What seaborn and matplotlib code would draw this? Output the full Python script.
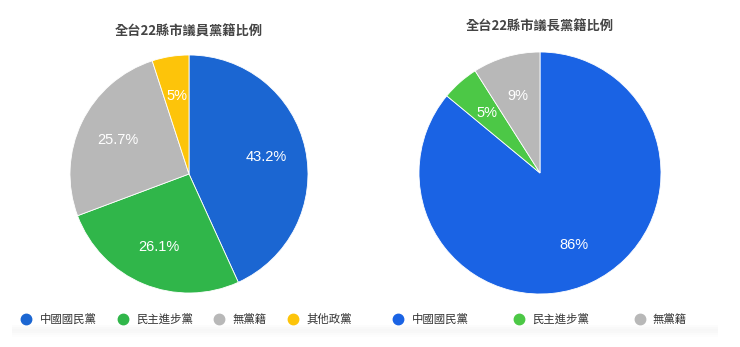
import matplotlib
matplotlib.use("Agg")
import matplotlib.pyplot as plt
import seaborn as sns
from matplotlib.lines import Line2D
from matplotlib.patches import Rectangle

sns.set_theme(style="white")
plt.rcParams['font.family'] = ['Noto Sans CJK TC', 'DejaVu Sans']

# Data
left_title = "全台22縣市議員黨籍比例"
left_parties = ["中國國民黨", "民主進步黨", "無黨籍", "其他政黨"]
left_values = [43.2, 26.1, 25.7, 5.0]
left_labels = ["43.2%", "26.1%", "25.7%", "5%"]
left_colors = ["#1b66d2", "#30b64a", "#b8b8b8", "#fdc40a"]

right_title = "全台22縣市議長黨籍比例"
right_parties = ["中國國民黨", "民主進步黨", "無黨籍"]
right_values = [86, 5, 9]
right_labels = ["86%", "5%", "9%"]
right_colors = ["#1a63e4", "#4cc846", "#b8b8b8"]

W, H = 740, 347
fig = plt.figure(figsize=(W / 100, H / 100), dpi=100)


def pie_axes(cx, cy, r):
    return fig.add_axes([(cx - r) / W, (H - cy - r) / H, 2 * r / W, 2 * r / H])


def draw_pie(ax, values, labels, colors):
    wedges, texts = ax.pie(values, colors=colors, startangle=90, counterclock=False,
                           labels=labels, labeldistance=0.66, radius=1.0,
                           wedgeprops=dict(linewidth=0.6, edgecolor="white"),
                           textprops=dict(color="white", fontsize=10.5, ha="center", va="center",
                                          family=["Liberation Sans", "DejaVu Sans"]))
    ax.set_xlim(-1, 1)
    ax.set_ylim(-1, 1)
    ax.set_aspect("auto")
    ax.axis("off")


axl = pie_axes(189, 174, 119)
draw_pie(axl, left_values, left_labels, left_colors)
axr = pie_axes(540, 173, 121)
draw_pie(axr, right_values, right_labels, right_colors)

fig.text(189 / W, 1 - 32 / H, left_title, ha="center", va="center", fontsize=9.5,
         color="#444444", fontweight="bold")
fig.text(540 / W, 1 - 27 / H, right_title, ha="center", va="center", fontsize=9.5,
         color="#444444", fontweight="bold")

# soft band under legend
for i, a in enumerate([0.06, 0.1, 0.14, 0.12, 0.08, 0.04]):
    fig.patches.append(Rectangle((12 / W, 1 - (327 + i * 2) / H), 706 / W, 2 / H,
                                 transform=fig.transFigure, color="#cccccc", alpha=a,
                                 linewidth=0))


def make_handles(colors):
    return [Line2D([0], [0], marker="o", linestyle="", markersize=7.5,
                   markerfacecolor=c, markeredgecolor=c) for c in colors]


leg1 = fig.legend(make_handles(left_colors), left_parties, ncol=4, frameon=False,
                  loc="center left", bbox_to_anchor=(20.3 / W, 1 - 319 / H),
                  fontsize=8.2, handletextpad=0.68, columnspacing=1.8, handlelength=1.0,
                  borderaxespad=0, borderpad=0)
for t in leg1.get_texts():
    t.set_color("#333333")
leg2 = fig.legend(make_handles(right_colors), right_parties, ncol=3, frameon=False,
                  loc="center left", bbox_to_anchor=(392.3 / W, 1 - 319 / H),
                  fontsize=8.2, handletextpad=0.68, columnspacing=3.93, handlelength=1.0,
                  borderaxespad=0, borderpad=0)
for t in leg2.get_texts():
    t.set_color("#333333")

fig.savefig("out.png", dpi=100, facecolor="white")
